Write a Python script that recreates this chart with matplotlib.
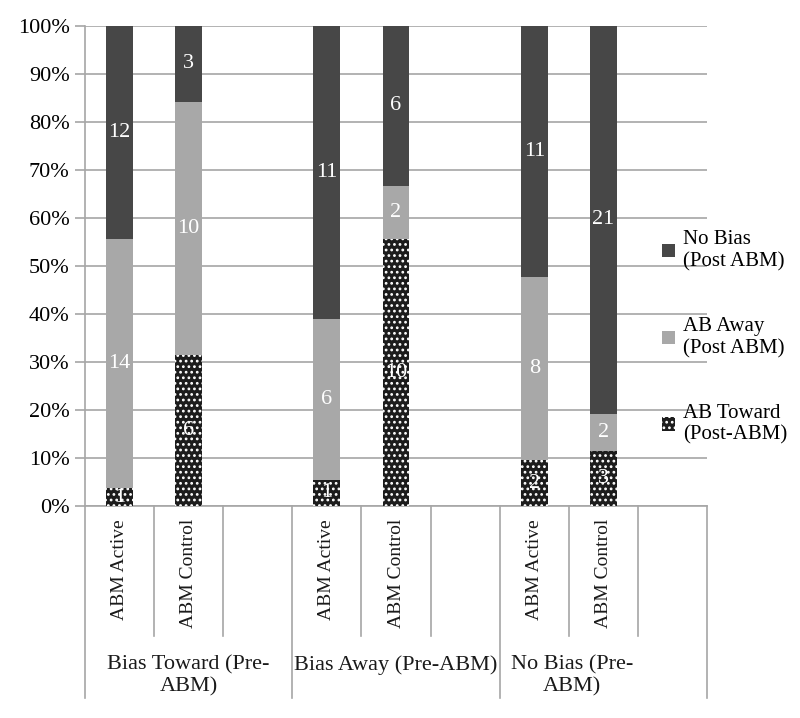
import numpy as np
import matplotlib
matplotlib.use("Agg")
import matplotlib.pyplot as plt
from matplotlib.patches import Patch

plt.rcParams['font.family'] = ['Liberation Serif', 'DejaVu Serif']
plt.rcParams['hatch.linewidth'] = 1.2

# data (counts per bar, slot 2/5/8 are empty)
groups = ["Bias Toward (Pre-\nABM)", "Bias Away (Pre-ABM)", "No Bias (Pre-\nABM)"]
bar_labels = ["ABM Active", "ABM Control"]
toward = [1, 6, 1, 10, 2, 3]
away = [14, 10, 6, 2, 8, 2]
nobias = [12, 3, 11, 6, 11, 21]
series_names = ["AB Toward\n(Post-ABM)", "AB Away\n(Post ABM)", "No Bias\n(Post ABM)"]

pos = np.array([0, 1, 3, 4, 6, 7])
tw = np.array(toward, float)
aw = np.array(away, float)
nb = np.array(nobias, float)
tot = tw + aw + nb
p_t, p_a, p_n = tw / tot, aw / tot, nb / tot

fig = plt.figure(figsize=(8, 7.18), dpi=100)
ax = fig.add_axes([0.106, 0.295, 0.778, 0.669])

grid_c = '#a6a6a6'
w = 0.39
ax.bar(pos, p_t, w, color='#1c1c1c', edgecolor='white', lw=0, hatch='...', zorder=3)
ax.bar(pos, p_a, w, bottom=p_t, color='#a8a8a8', lw=0, zorder=3)
ax.bar(pos, p_n, w, bottom=p_t + p_a, color='#474747', lw=0, zorder=3)

for vals, bottom, h in [(tw, np.zeros(6), p_t), (aw, p_t, p_a), (nb, p_t + p_a, p_n)]:
    for x, v, b, hh in zip(pos, vals, bottom, h):
        ax.text(x, b + hh / 2, f"{int(v)}", color='white', ha='center', va='center',
                fontsize=16, zorder=5)

ax.set_xlim(-0.5, 8.5)
ax.set_ylim(0, 1)
ax.set_yticks(np.arange(0, 1.01, 0.1))
ax.set_yticklabels([f"{int(round(t * 100))}%" for t in np.arange(0, 1.01, 0.1)], fontsize=16)
ax.yaxis.grid(True, color=grid_c, lw=1.2, zorder=0)
ax.tick_params(axis='y', length=7, color=grid_c, width=1.2, pad=4)
ax.set_xticks([])
for s in ['top', 'right', 'bottom']:
    ax.spines[s].set_visible(False)
ax.spines['left'].set_color(grid_c)
ax.spines['left'].set_linewidth(1.2)

# category axis drawn below the plot
trans = ax.get_xaxis_transform()
for x in np.arange(-0.5, 9, 1):
    long_line = x in (-0.5, 2.5, 5.5, 8.5)
    y_end = -0.4 if long_line else -0.27
    ax.plot([x, x], [0, y_end], color=grid_c, lw=1.2, transform=trans, clip_on=False)
ax.plot([-0.5, 8.5], [0, 0], color=grid_c, lw=1.2, transform=trans, clip_on=False)

for i, x in enumerate(pos):
    ax.text(x, -0.027, bar_labels[i % 2], rotation=90, ha='center', va='top',
            fontsize=14, transform=trans, color='#1a1a1a')

for g, cx in zip(groups, [1, 4, 6.55]):
    ax.text(cx, -0.31, g, ha='center', va='top', fontsize=16, transform=trans,
            linespacing=1.2, color='#1a1a1a')

handles = [Patch(facecolor='#474747', lw=0),
           Patch(facecolor='#a8a8a8', lw=0),
           Patch(facecolor='#1c1c1c', edgecolor='white', lw=0, hatch='...')]
fig.legend(handles, series_names[::-1], loc='center left', bbox_to_anchor=(0.828, 0.53),
           frameon=False, fontsize=15, handlelength=0.6, handleheight=0.6,
           handletextpad=0.4, labelspacing=2.2, borderpad=0, borderaxespad=0)

fig.savefig("out.png", dpi=100, facecolor='white')
